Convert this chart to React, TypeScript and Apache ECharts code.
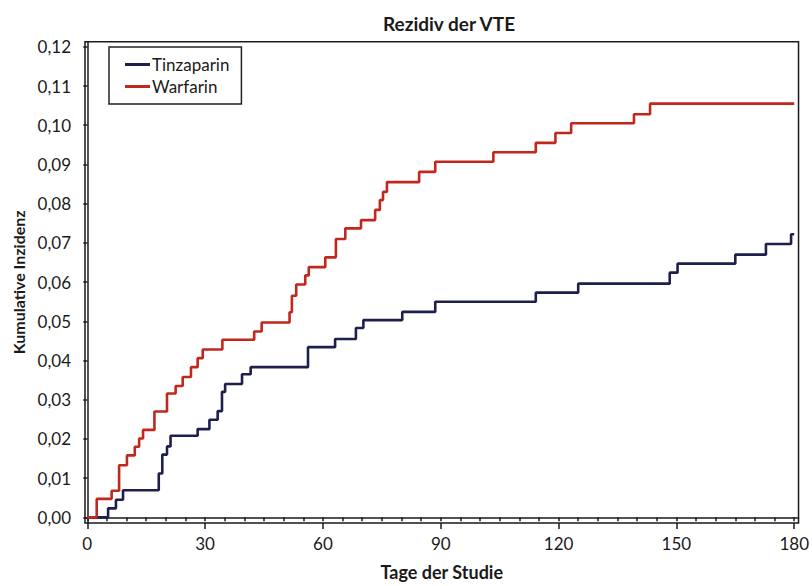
import React, { useEffect, useRef } from "react";
import * as echarts from "echarts";

// Step points: [day, cumulative incidence from that day on]
const tinzaparinDays = [0, 5.3, 7.3, 9.1, 18.2, 19.1, 20.3, 21.2, 28.1, 31.1, 33.2, 34.3, 35.1, 39.4, 41.6, 56.2, 63.1, 68.4, 70.3, 80.2, 88.6, 114.2, 125, 148.3, 150.3, 165, 172.8, 179.2, 180];
const tinzaparinValues = [0, 0.0023, 0.0045, 0.0069, 0.0112, 0.016, 0.0181, 0.0208, 0.0225, 0.0249, 0.0271, 0.032, 0.034, 0.0365, 0.0383, 0.0434, 0.0455, 0.0483, 0.0503, 0.0524, 0.055, 0.0573, 0.0596, 0.0624, 0.0647, 0.067, 0.0697, 0.0722, 0.0722];

const warfarinDays = [0, 2.4, 6.2, 8.1, 10.1, 12.1, 13.2, 14.2, 17.1, 20.3, 22.5, 24.3, 26.4, 28.1, 29.4, 34.4, 42.5, 44.4, 51.5, 52.1, 53.2, 55.5, 56.4, 60.6, 63.3, 65.7, 69.7, 73.3, 74.5, 75.3, 76.3, 84.5, 88.6, 103.4, 114.2, 119.2, 123.2, 139.2, 143.3, 180];
const warfarinValues = [0, 0.0047, 0.0068, 0.0133, 0.0158, 0.018, 0.0201, 0.0223, 0.027, 0.0316, 0.0335, 0.0358, 0.0383, 0.0406, 0.0428, 0.0453, 0.0474, 0.0497, 0.0523, 0.0565, 0.0594, 0.0617, 0.0638, 0.0663, 0.071, 0.0737, 0.0758, 0.0784, 0.0809, 0.083, 0.0855, 0.0881, 0.0907, 0.0931, 0.0955, 0.098, 0.1005, 0.1028, 0.1055, 0.1055];

const xLabelValues = [0, 30, 60, 90, 120, 150, 180];
const xMinorTickValues = Array.from({ length: 37 }, (_, i) => i * 5);
const yTickValues = [0, 0.01, 0.02, 0.03, 0.04, 0.05, 0.06, 0.07, 0.08, 0.09, 0.1, 0.11, 0.12];

const FONT = "Lato, 'Open Sans', sans-serif";

export default function App() {
  const ref = useRef<HTMLDivElement>(null);
  useEffect(() => {
    if (!ref.current) return;
    const chart = echarts.init(ref.current, null, { renderer: "svg" });
    const toPairs = (d: number[], v: number[]) => d.map((x, i) => [x, v[i]]);
    chart.setOption({
      animation: false,
      backgroundColor: "#ffffff",
      textStyle: { fontFamily: FONT },
      title: {
        text: "Rezidiv der VTE",
        left: 444,
        textAlign: "center",
        top: 9,
        textStyle: { fontFamily: FONT, fontSize: 19, fontWeight: "bold", color: "#1a1a1a" },
      },
      legend: {
        orient: "vertical",
        left: 109,
        top: 47,
        padding: [9, 12, 9, 16],
        itemGap: 5,
        itemWidth: 25,
        itemHeight: 3,
        icon: "rect",
        borderColor: "#222",
        borderWidth: 1.5,
        textStyle: { fontFamily: FONT, fontSize: 17, color: "#1a1a1a", padding: [0, 0, 0, -3] },
        data: ["Tinzaparin", "Warfarin"],
      },
      grid: {
        left: 85,
        right: 9.3,
        top: 41.7,
        bottom: 58.3,
        show: true,
        borderColor: "#1a1a1a",
        borderWidth: 1.5,
        backgroundColor: "transparent",
      },
      xAxis: [
        {
          type: "value",
          min: -0.58,
          max: 181.1,
          name: "Tage der Studie",
          nameLocation: "middle",
          nameGap: 40,
          nameTextStyle: { fontFamily: FONT, fontSize: 18, fontWeight: "bold", color: "#1a1a1a" },
          axisLine: { show: true, lineStyle: { color: "#1a1a1a", width: 1.5 } },
          axisTick: { show: true, length: 4, customValues: xMinorTickValues, lineStyle: { color: "#1a1a1a", width: 1.5 } },
          axisLabel: {
            customValues: xLabelValues,
            margin: 12,
            fontFamily: FONT,
            fontSize: 17,
            color: "#1a1a1a",
            formatter: (v: number) => String(Math.round(v)),
          },
          splitLine: { show: false },
        },
        {
          type: "value",
          position: "bottom",
          min: -0.58,
          max: 181.1,
          axisLine: { show: false },
          axisTick: { show: true, length: 6, customValues: xLabelValues, lineStyle: { color: "#1a1a1a", width: 1.5 } },
          axisLabel: { show: false },
          splitLine: { show: false },
        },
      ],
      yAxis: {
        type: "value",
        min: -0.00144,
        max: 0.1213,
        name: "Kumulative Inzidenz",
        nameLocation: "middle",
        nameGap: 59,
        nameRotate: 90,
        nameTextStyle: { fontFamily: FONT, fontSize: 16, fontWeight: "bold", color: "#1a1a1a" },
        axisLine: { show: true, lineStyle: { color: "#1a1a1a", width: 1.5 } },
        axisTick: { show: true, length: 4, customValues: yTickValues, lineStyle: { color: "#1a1a1a", width: 1.5 } },
        axisLabel: {
          customValues: yTickValues,
          margin: 14,
          fontFamily: FONT,
          fontSize: 17,
          color: "#1a1a1a",
          formatter: (v: number) => v.toFixed(2).replace(".", ","),
        },
        splitLine: { show: false },
      },
      series: [
        {
          name: "Tinzaparin",
          type: "line",
          step: "end",
          showSymbol: false,
          symbol: "none",
          color: "#1f1f4d",
          lineStyle: { color: "#1f1f4d", width: 2.6 },
          data: toPairs(tinzaparinDays, tinzaparinValues),
        },
        {
          name: "Warfarin",
          type: "line",
          step: "end",
          showSymbol: false,
          symbol: "none",
          color: "#c1271d",
          lineStyle: { color: "#c1271d", width: 2.6 },
          data: toPairs(warfarinDays, warfarinValues),
        },
      ],
    });
    return () => chart.dispose();
  }, []);
  return (
    <div
      ref={ref}
      style={{ position: "fixed", left: 0, top: 0, width: 812, height: 586 }}
    />
  );
}
